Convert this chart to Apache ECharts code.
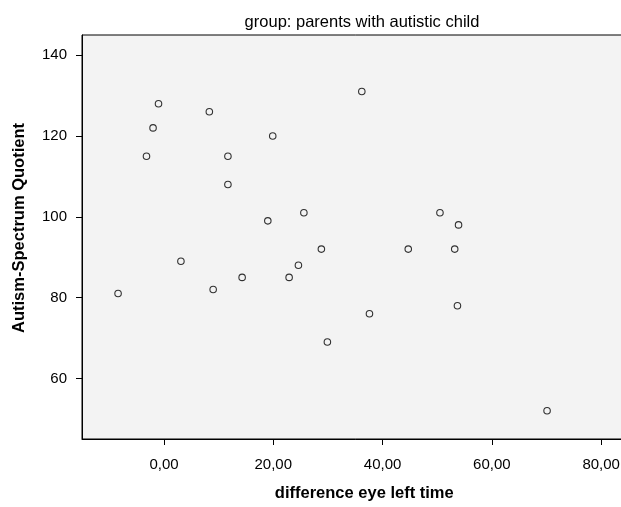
<!DOCTYPE html>
<html>
<head>
<meta charset="utf-8">
<script src="https://cdn.jsdelivr.net/npm/echarts@6/dist/echarts.min.js"></script>
<style>
html,body{margin:0;padding:0;background:#fff;overflow:hidden;width:621px;height:507px;}
#chart{width:640px;height:507px;}
</style>
</head>
<body>
<div id="chart"></div>
<script>
var titleText = 'group: parents with autistic child';
var xName = 'difference eye left time';
var yName = 'Autism-Spectrum Quotient';
var diffEyeLeftTime = [-1.0, -2.0, -3.2, 8.3, 19.9, 11.7, 11.7, 19.0, 25.6, 36.2, 50.5, 53.9, 3.1, -8.4, 9.0, 14.3, 22.9, 24.6, 28.8, 29.9, 44.7, 53.2, 53.7, 37.6, 70.1];
var aqScore = [128, 122, 115, 126, 120, 115, 108, 99, 101, 131, 101, 98, 89, 81, 82, 85, 85, 88, 92, 69, 92, 92, 78, 76, 52];
var xTicks = [0, 20, 40, 60, 80];
var xTickLabels = ['0,00', '20,00', '40,00', '60,00', '80,00'];
var yTicks = [60, 80, 100, 120, 140];
var yTickLabels = ['60', '80', '100', '120', '140'];

var points = diffEyeLeftTime.map(function (x, i) { return [x, aqScore[i]]; });
var FONT = '"Liberation Sans", Arial, Helvetica, sans-serif';

var chart = echarts.init(document.getElementById('chart'), null, {renderer: 'canvas'});
chart.setOption({
  animation: false,
  backgroundColor: '#ffffff',
  title: {
    text: titleText,
    left: 357,
    top: 9,
    textAlign: 'center',
    textStyle: {fontFamily: FONT, fontSize: 16.5, fontWeight: 'normal', color: '#000'}
  },
  grid: {
    left: 82, top: 35, width: 546.5, height: 408.3,
    show: true, backgroundColor: '#f3f3f3', borderColor: '#000', borderWidth: 1
  },
  xAxis: {
    type: 'value', min: -15, max: 85,
    name: xName, nameLocation: 'middle', nameGap: 46,
    nameTextStyle: {fontFamily: FONT, fontSize: 16.5, fontWeight: 'bold', color: '#000', padding: [0, 0, 0, 18]},
    axisLine: {show: true, onZero: false, lineStyle: {color: '#000', width: 1}},
    axisTick: {show: true, length: 6, customValues: xTicks, lineStyle: {color: '#000'}},
    axisLabel: {
      customValues: xTicks, margin: 18, fontFamily: FONT, fontSize: 15, color: '#000',
      formatter: function (v) { var i = xTicks.indexOf(v); return i >= 0 ? xTickLabels[i] : ''; }
    },
    splitLine: {show: false}
  },
  yAxis: {
    type: 'value', min: 45, max: 145,
    name: yName, nameLocation: 'middle', nameGap: 54,
    nameTextStyle: {fontFamily: FONT, fontSize: 16.5, fontWeight: 'bold', color: '#000', padding: [0, 0, 0, 18]},
    axisLine: {show: true, onZero: false, lineStyle: {color: '#000', width: 1}},
    axisTick: {show: true, length: 6, customValues: yTicks, lineStyle: {color: '#000'}},
    axisLabel: {
      customValues: yTicks, margin: 15, fontFamily: FONT, fontSize: 15, color: '#000',
      formatter: function (v) { var i = yTicks.indexOf(v); return i >= 0 ? yTickLabels[i] : ''; }
    },
    splitLine: {show: false}
  },
  series: [{
    type: 'scatter',
    data: points,
    symbol: 'circle',
    symbolSize: 6.5,
    itemStyle: {color: 'rgba(0,0,0,0)', borderColor: '#000', borderWidth: 1.1}
  }]
});
</script>
</body>
</html>
